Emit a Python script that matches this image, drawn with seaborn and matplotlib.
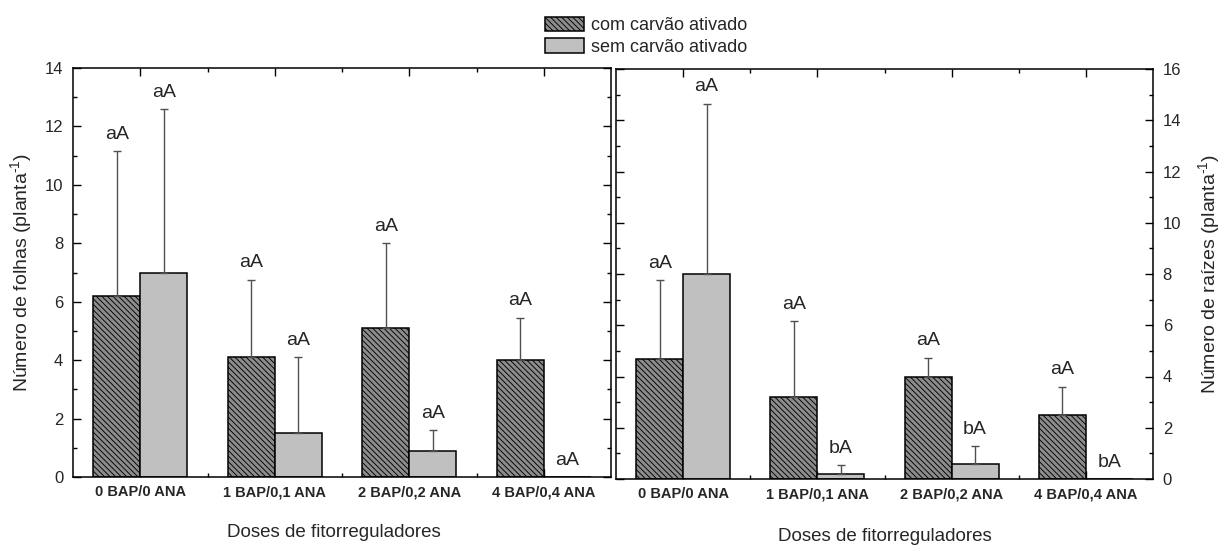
import numpy as np
import pandas as pd
import matplotlib
matplotlib.use("Agg")
import matplotlib.pyplot as plt
import seaborn as sns
from matplotlib.ticker import MultipleLocator, FixedLocator

# ---------------- data ----------------
doses = ["0 BAP/0 ANA", "1 BAP/0,1 ANA", "2 BAP/0,2 ANA", "4 BAP/0,4 ANA"]
tratamentos = ["com carvão ativado", "sem carvão ativado"]

folhas_com = [6.2, 4.1, 5.1, 4.0]
folhas_com_err = [4.95, 2.65, 2.9, 1.45]
folhas_sem = [7.0, 1.5, 0.9, 0.0]
folhas_sem_err = [5.6, 2.6, 0.7, 0.0]
folhas_com_letras = ["aA", "aA", "aA", "aA"]
folhas_sem_letras = ["aA", "aA", "aA", "aA"]

raizes_com = [4.7, 3.2, 4.0, 2.5]
raizes_com_err = [3.05, 2.95, 0.73, 1.1]
raizes_sem = [8.0, 0.2, 0.6, 0.0]
raizes_sem_err = [6.65, 0.33, 0.68, 0.0]
raizes_com_letras = ["aA", "aA", "aA", "aA"]
raizes_sem_letras = ["aA", "bA", "bA", "bA"]

xlabel = "Doses de fitorreguladores"
ylabel_left = r"Número de folhas (planta$^{\text{-1}}$)"
ylabel_right = r"Número de raízes (planta$^{\text{-1}}$)"

# ---------------- style ----------------
sns.set_style("ticks")
plt.rcParams["font.family"] = ["Liberation Sans", "DejaVu Sans"]
plt.rcParams["mathtext.fontset"] = "custom"
plt.rcParams["mathtext.rm"] = "Liberation Sans"
plt.rcParams["mathtext.it"] = "Liberation Sans:italic"
plt.rcParams["hatch.color"] = "black"
plt.rcParams["hatch.linewidth"] = 0.65

W, H = 1222, 547
fig = plt.figure(figsize=(W / 100, H / 100), dpi=100)
fig.patch.set_facecolor("white")


def px_axes(x0, y0, x1, y1):
    return fig.add_axes([x0 / W, 1 - y1 / H, (x1 - x0) / W, (y1 - y0) / H])


ax1 = px_axes(73, 68, 611, 477)
ax2 = px_axes(616, 69, 1153, 479)

HATCH_FACE = "#8c8c8c"
GRAY_FACE = "#c0c0c0"


def panel(ax, com, com_err, sem, sem_err, com_let, sem_let, ymax, right):
    df = pd.DataFrame({
        "dose": doses * 2,
        "trat": [tratamentos[0]] * 4 + [tratamentos[1]] * 4,
        "valor": list(com) + list(sem),
    })
    sns.barplot(data=df, x="dose", y="valor", hue="trat", order=doses,
                hue_order=tratamentos, palette=[HATCH_FACE, GRAY_FACE],
                saturation=1, width=0.7, edgecolor="black", linewidth=1.1,
                errorbar=None, legend=False, ax=ax)
    for p in ax.containers[0]:
        p.set_hatch("\\" * 6)
    groups = [(ax.containers[0], com, com_err, com_let),
              (ax.containers[1], sem, sem_err, sem_let)]
    for cont, vals, errs, lets in groups:
        for p, v, e, t in zip(cont, vals, errs, lets):
            xc = p.get_x() + p.get_width() / 2
            if e > 0:
                ax.errorbar([xc], [v], yerr=[[0], [e]], fmt="none",
                            ecolor="#505050", elinewidth=1.0, capsize=2.7,
                            capthick=1.0, zorder=3)
            ax.annotate(t, (xc, v + e), xytext=(0, 6),
                        textcoords="offset points", ha="center",
                        va="bottom", fontsize=14)
    ax.set_xlim(-0.5, 3.5)
    ax.set_ylim(0, ymax)
    ax.yaxis.set_major_locator(MultipleLocator(2))
    ax.yaxis.set_minor_locator(MultipleLocator(1))
    ax.xaxis.set_major_locator(FixedLocator([0, 1, 2, 3]))
    ax.xaxis.set_minor_locator(FixedLocator([0.5, 1.5, 2.5]))
    ax.set_xticks(range(4))
    ax.set_xticklabels(doses, fontweight="bold", fontsize=10.5)
    for s in ax.spines.values():
        s.set_visible(True)
        s.set_linewidth(1.1)
        s.set_color("black")
    ax.tick_params(axis="both", which="both", direction="in",
                   top=True, bottom=True, left=True, right=True,
                   color="black", width=1.0)
    ax.tick_params(axis="both", which="major", length=6)
    ax.tick_params(axis="both", which="minor", length=3)
    ax.tick_params(axis="x", which="major", pad=6)
    ax.tick_params(axis="y", labelsize=12, pad=7)
    if right:
        ax.tick_params(axis="y", labelleft=False, labelright=True)
        ax.yaxis.set_label_position("right")
    ax.set_xlabel(xlabel, fontsize=13.5)
    ax.grid(False)


panel(ax1, folhas_com, folhas_com_err, folhas_sem, folhas_sem_err,
      folhas_com_letras, folhas_sem_letras, 14, False)
panel(ax2, raizes_com, raizes_com_err, raizes_sem, raizes_sem_err,
      raizes_com_letras, raizes_sem_letras, 16, True)

ax1.set_ylabel(ylabel_left, fontsize=14)
ax2.set_ylabel(ylabel_right, fontsize=14, rotation=90)
ax1.yaxis.set_label_coords((34 - 73) / 538, 0.5)
ax2.yaxis.set_label_coords((1196 - 616) / 537, 0.5)
ax1.xaxis.set_label_coords((334 - 73) / 538, (477 - 524) / 409)
ax2.xaxis.set_label_coords(0.5, (479 - 528) / 410)

handles = [ax1.containers[0][0], ax1.containers[1][0]]
fig.legend(handles, tratamentos, loc="upper left",
           bbox_to_anchor=(545 / W, 1 - 17 / H), frameon=False,
           fontsize=13, handlelength=2.15, handleheight=0.85,
           handletextpad=0.4, labelspacing=0.22, borderpad=0,
           borderaxespad=0)

fig.savefig("out.png", dpi=100, facecolor="white")
